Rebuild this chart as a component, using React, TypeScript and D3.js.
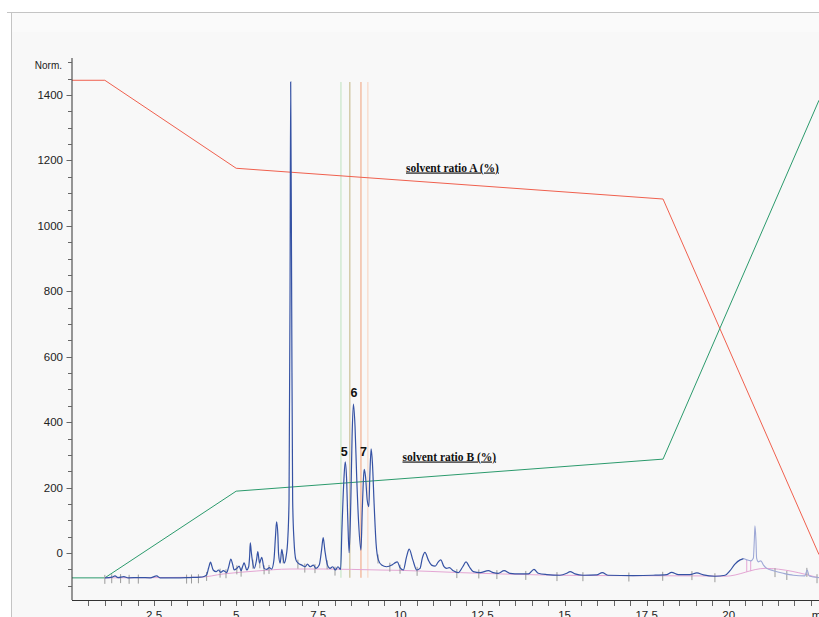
import React from "react";
import * as d3 from "d3";

// ---- data ----
const yTickValues = d3.range(-100, 1501, 50);
const yLabelValues = [0, 200, 400, 600, 800, 1000, 1200, 1400];
const xTickValues = d3.range(0.5, 22.51, 0.5);
const xLabelValues = [2.5, 5, 7.5, 10, 12.5, 15, 17.5, 20];
const xLabelTexts = ["2.5", "5", "7.5", "10", "12.5", "15", "17.5", "20"];

// solvent gradient (plotted in Norm. units)
const solventT = [0, 1, 5, 18, 22.75];
const solventA = [1445, 1445, 1176, 1082, -5];
const solventB = [-76, -76, 189, 287, 1384];

// chromatogram (time in min, signal in Norm.)
const chromT = [
  1.005, 1.22, 1.31, 1.4, 1.58, 1.71, 2.07, 2.38, 2.58, 2.68, 3.14, 3.59, 3.9, 4.02, 4.1, 4.16, 4.22, 4.26, 4.3, 4.39,
  4.46, 4.53, 4.61, 4.71, 4.77, 4.84, 4.89, 4.94, 5.02, 5.09, 5.15, 5.2, 5.24, 5.28, 5.32, 5.38, 5.41, 5.43, 5.46, 5.49,
  5.55, 5.62, 5.66, 5.71, 5.78, 5.85, 5.93, 6.01, 6.08, 6.15, 6.2, 6.23, 6.27, 6.29, 6.34, 6.39, 6.46, 6.52, 6.57, 6.61,
  6.64, 6.66, 6.69, 6.72, 6.76, 6.82, 6.89, 7.0, 7.1, 7.17, 7.25, 7.35, 7.43, 7.53, 7.6, 7.65, 7.7, 7.78, 7.86, 7.94,
  8.02, 8.1, 8.18, 8.22, 8.28, 8.32, 8.36, 8.4, 8.44, 8.49, 8.53, 8.57, 8.62, 8.67, 8.73, 8.8, 8.84, 8.88, 8.9, 8.94,
  8.99, 9.04, 9.07, 9.11, 9.15, 9.2, 9.26, 9.33, 9.43, 9.58, 9.74, 9.82, 9.91, 9.99, 10.09, 10.19, 10.27, 10.38, 10.5, 10.6,
  10.67, 10.75, 10.85, 10.95, 11.06, 11.15, 11.23, 11.33, 11.41, 11.49, 11.61, 11.76, 11.9, 12.0, 12.1, 12.22, 12.43, 12.68, 12.83, 12.98,
  13.16, 13.34, 13.64, 13.9, 14.07, 14.2, 14.46, 14.86, 15.07, 15.17, 15.32, 15.57, 15.98, 16.15, 16.33, 17.09, 17.7, 18.11, 18.26, 18.47,
  18.82, 19.03, 19.23, 19.58, 19.89, 20.04, 20.19, 20.35, 20.45,
];
const chromV = [
  -76, -74, -70, -75, -72, -76, -75, -76, -70, -76, -76, -75, -74, -72, -67, -46, -28, -40, -52, -57,
  -52, -59, -54, -60, -43, -19, -34, -52, -47, -40, -54, -40, -30, -40, -52, -42, -9, 31, 3, -21,
  -47, -21, 4, -31, -13, -47, -50, -45, -49, -21, 55, 95, 55, -1, -31, 11, -31, -11, 40, 162,
  773, 1440, 773, 162, 40, -21, -31, -37, -42, -34, -42, -37, -47, -37, 9, 47, 9, -37, -47, -42,
  -52, -42, -50, 70, 223, 279, 233, 101, 1, 152, 356, 455, 386, 233, 91, 9, 131, 233, 256, 233,
  162, 142, 233, 318, 274, 152, 30, -21, -37, -42, -37, -31, -27, -45, -52, -11, 12, -21, -52, -47,
  -15, 2, -21, -37, -40, -28, -21, -42, -47, -45, -54, -60, -42, -27, -42, -57, -60, -54, -60, -62,
  -54, -62, -64, -64, -50, -62, -66, -68, -62, -57, -64, -68, -67, -60, -68, -69, -68, -66, -59, -66,
  -66, -61, -67, -71, -68, -54, -34, -21, -17,
];
// tail of the trace drawn in a lighter colour
const tailT = [20.45, 20.55, 20.67, 20.75, 20.78, 20.8, 20.83, 20.85, 20.9, 20.98, 21.06, 21.16, 21.36, 21.66, 21.97, 22.32, 22.39, 22.45, 22.75];
const tailV = [-17, -21, -24, -16, 40, 83, 40, -16, -27, -24, -37, -47, -54, -62, -68, -70, -52, -70, -75];

// integration baseline
const baseT = [1.0, 3.9, 4.61, 5.63, 6.64, 7.65, 9.38, 9.99, 11.82, 14.25, 16.08, 19.13, 19.89, 21.11, 22.75];
const baseV = [-76, -74, -64, -55, -49, -49, -52, -53, -60, -67, -69, -70, -71, -47, -76];

// integration event marks
const eventT = [
  1.0, 1.21, 1.48, 1.74, 2.02, 3.49, 3.64, 3.85, 4.1, 4.51, 4.69, 5.02, 5.15, 5.51, 5.72, 5.85, 6.0, 6.43, 6.88, 7.09,
  7.4, 7.77, 8.01, 9.32, 9.68, 9.99, 10.51, 11.72, 12.39, 12.94, 13.82, 14.77, 15.56, 16.96, 17.99, 18.88, 19.58, 21.41, 21.77, 22.38, 22.69,
];
const dropT = [20.55, 20.67];

// fraction window markers
const fractionT = [8.19, 8.46, 8.8, 9.01];
const fractionColors = ["#cfe8cf", "#d2c8a4", "#f2b89c", "#f8dccd"];
const fractionTop = 1440;
const fractionBottom = -76;

// peak numbers
const peakLabels = ["5", "6", "7"];
const peakLabelT = [8.29, 8.59, 8.88];
const peakLabelV = [297, 478, 298];

const W = 819;
const H = 617;

export default function App() {
  const x = d3.scaleLinear().domain([0, 22.75]).range([72, 819]);
  const y = d3.scaleLinear().domain([0, 1400]).range([553, 95]);

  const allT = chromT.concat(tailT.slice(1));
  const allV = chromV.concat(tailV.slice(1));
  const valueAt = (t: number, ts: number[], vs: number[]) => {
    const i = d3.bisectLeft(ts, t);
    if (i <= 0) return vs[0];
    if (i >= ts.length) return vs[vs.length - 1];
    const t0 = ts[i - 1], t1 = ts[i];
    const f = (t - t0) / (t1 - t0);
    return vs[i - 1] + f * (vs[i] - vs[i - 1]);
  };

  const lineGen = d3
    .line<number>()
    .x((_, i) => 0)
    .y(() => 0);
  const mk = (ts: number[], vs: number[], curve: any) =>
    d3
      .line<[number, number]>()
      .x((d) => x(d[0]))
      .y((d) => y(d[1]))
      .curve(curve)(ts.map((t, i) => [t, vs[i]] as [number, number])) || "";
  void lineGen;

  const chromPath = mk(chromT, chromV, d3.curveMonotoneX);
  const tailPath = mk(tailT, tailV, d3.curveMonotoneX);
  const basePath = mk(baseT, baseV, d3.curveMonotoneX);
  const aPath = mk(solventT, solventA, d3.curveLinear);
  const bPath = mk(solventT, solventB, d3.curveLinear);

  const font = "'Liberation Sans', Arial, sans-serif";

  return (
    <svg
      width={W}
      height={H}
      style={{ position: "absolute", left: 0, top: 0, display: "block" }}
      xmlns="http://www.w3.org/2000/svg"
    >
      <rect x={0} y={0} width={W} height={H} fill="#ffffff" />
      <rect x={11} y={12} width={W - 11} height={H - 12} fill="#f8f8f8" />
      <rect x={11} y={12} width={W - 11} height={20} fill="#fafafa" />
      <line x1={7} x2={W} y1={12.5} y2={12.5} stroke="#c4c4c4" />
      <line x1={11.5} x2={11.5} y1={12} y2={H} stroke="#c4c4c4" />

      {/* fraction markers */}
      {fractionT.map((t, i) => (
        <line
          key={"f" + i}
          x1={x(t)}
          x2={x(t)}
          y1={y(fractionTop)}
          y2={y(fractionBottom)}
          stroke={fractionColors[i]}
          strokeWidth={1.4}
        />
      ))}

      {/* solvent gradients */}
      <path d={aPath} fill="none" stroke="#f0604e" strokeWidth={1} />
      <path d={bPath} fill="none" stroke="#2b9a6c" strokeWidth={1} />

      {/* integration baseline */}
      <path d={basePath} fill="none" stroke="#e4a6d4" strokeWidth={1} />
      {dropT.map((t, i) => (
        <line
          key={"d" + i}
          x1={x(t)}
          x2={x(t)}
          y1={y(valueAt(t, allT, allV))}
          y2={y(valueAt(t, baseT, baseV))}
          stroke="#e4a6d4"
          strokeWidth={1}
        />
      ))}

      {/* event marks */}
      {eventT.map((t, i) => {
        const yy = y(valueAt(t, allT, allV));
        return (
          <line key={"e" + i} x1={x(t)} x2={x(t)} y1={yy - 3} y2={yy + 6} stroke="#9a9a9a" strokeWidth={1} />
        );
      })}

      {/* chromatogram */}
      <path d={tailPath} fill="none" stroke="#9ea8d6" strokeWidth={1.1} />
      <path d={chromPath} fill="none" stroke="#3552a4" strokeWidth={1.2} />

      {/* peak labels */}
      {peakLabels.map((s, i) => (
        <text
          key={"p" + i}
          x={x(peakLabelT[i])}
          y={y(peakLabelV[i])}
          textAnchor="middle"
          fontFamily={font}
          fontWeight="bold"
          fontSize={12.5}
          fill="#111"
        >
          {s}
        </text>
      ))}

      {/* solvent labels */}
      <text
        x={406}
        y={171.5}
        fontFamily="'Liberation Serif', 'Times New Roman', serif"
        fontWeight="bold"
        fontSize={11.5}
        textDecoration="underline"
        fill="#111"
      >
        solvent ratio A (%)
      </text>
      <text
        x={402.5}
        y={460.5}
        fontFamily="'Liberation Serif', 'Times New Roman', serif"
        fontWeight="bold"
        fontSize={11.5}
        textDecoration="underline"
        fill="#111"
      >
        solvent ratio B (%)
      </text>

      {/* y axis */}
      <line x1={72} x2={72} y1={58} y2={600} stroke="#333" strokeWidth={1} />
      {yTickValues.map((v) => {
        const major = v % 200 === 0;
        return (
          <line
            key={"yt" + v}
            x1={major ? 66.5 : 68}
            x2={72}
            y1={Math.round(y(v)) + 0.5}
            y2={Math.round(y(v)) + 0.5}
            stroke="#666"
            strokeWidth={1}
          />
        );
      })}
      {yLabelValues.map((v) => (
        <text key={"yl" + v} x={63} y={y(v) + 4} textAnchor="end" fontFamily={font} fontSize={11.5} fill="#222">
          {v}
        </text>
      ))}
      <text x={62} y={68.5} textAnchor="end" fontFamily={font} fontSize={10} fill="#222">
        Norm.
      </text>

      {/* x axis */}
      <line x1={72} x2={W} y1={600.5} y2={600.5} stroke="#333" strokeWidth={1} />
      {xTickValues.map((t) => (
        <line
          key={"xt" + t}
          x1={Math.round(x(t)) + 0.5}
          x2={Math.round(x(t)) + 0.5}
          y1={601}
          y2={606}
          stroke="#666"
          strokeWidth={1}
        />
      ))}
      {xLabelValues.map((t, i) => (
        <text key={"xl" + t} x={x(t)} y={618.5} textAnchor="middle" fontFamily={font} fontSize={11.5} fill="#222">
          {xLabelTexts[i]}
        </text>
      ))}
      <text x={x(22.5) + 1} y={618.5} textAnchor="start" fontFamily={font} fontSize={11.5} fill="#222">
        min
      </text>
    </svg>
  );
}
